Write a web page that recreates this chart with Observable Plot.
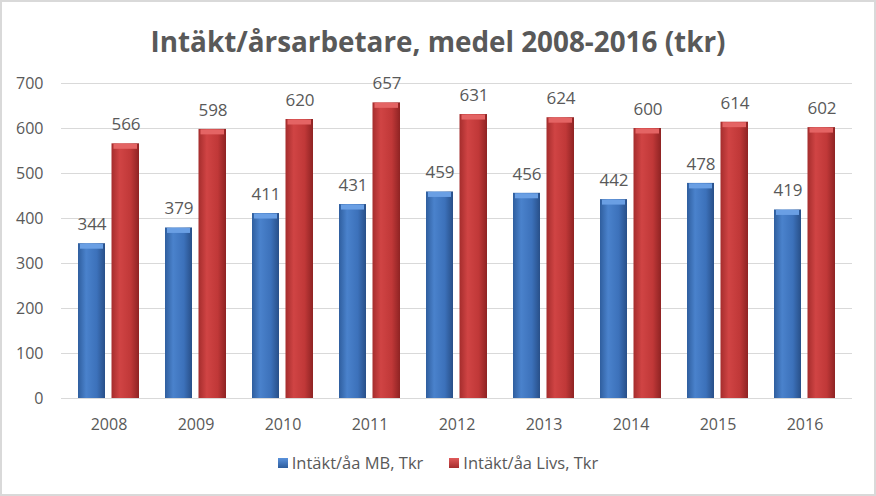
<!DOCTYPE html>
<html><head><meta charset="utf-8">
<script src="https://cdn.jsdelivr.net/npm/d3@7"></script>
<script src="https://cdn.jsdelivr.net/npm/@observablehq/plot@0.6"></script>
<style>
body{margin:0;background:#fff;}
#wrap{width:876px;height:496px;box-sizing:border-box;border:2px solid #d9d9d9;background:#fff;overflow:hidden;font-family:"Open Sans",sans-serif;color:#595959;}
#title{display:block;}
#chart svg{display:block;}
#legend{height:54px;box-sizing:border-box;padding-top:12px;display:flex;justify-content:center;align-items:flex-start;font-size:16.5px;line-height:22px;}
.item{display:flex;align-items:center;margin:0 13px;}
.sw{width:10px;height:10px;margin-right:4px;}
</style></head><body>
<div id="wrap">
<svg id="title" width="872" height="66"></svg>
<div id="chart"></div>
<div id="legend"></div>
</div>
<script>
const titleText = "Intäkt/årsarbetare, medel 2008-2016 (tkr)";
const years = ["2008","2009","2010","2011","2012","2013","2014","2015","2016"];
const mbValues = [344,379,411,431,459,456,442,478,419];
const livsValues = [566,598,620,657,631,624,600,614,602];
const yTicks = [0,100,200,300,400,500,600,700];
const seriesNames = ["Intäkt/åa MB, Tkr","Intäkt/åa Livs, Tkr"];

const rows = years.map((y,i)=>({year:y, mb:mbValues[i], livs:livsValues[i]}));

// title
const ns = "http://www.w3.org/2000/svg";
const tsvg = document.getElementById("title");
const t = document.createElementNS(ns,"text");
t.setAttribute("x","436"); t.setAttribute("y","50");
t.setAttribute("text-anchor","middle");
t.setAttribute("font-family","Open Sans");
t.setAttribute("font-weight","bold");
t.setAttribute("font-size","28");
t.setAttribute("fill","#595959");
t.setAttribute("textLength","575");
t.setAttribute("lengthAdjust","spacingAndGlyphs");
t.textContent = titleText;
tsvg.appendChild(t);

const chart = Plot.plot({
  width: 872, height: 372,
  marginTop: 15, marginBottom: 42, marginLeft: 59, marginRight: 22,
  style: {fontFamily: "Open Sans", fontSize: "16px", color: "#595959", background: "white"},
  x: {domain: years, padding: 0, tickSize: 0, tickPadding: 20, label: null},
  y: {domain: [0,700], ticks: yTicks, tickSize: 0, tickPadding: 18, label: null},
  marks: [
    Plot.ruleY(yTicks, {stroke: "#d9d9d9", strokeWidth: 1}),
    Plot.barY(rows, {x: "year", y: "mb", fill: "url(#gBlue)", insetLeft: 13, insetRight: 47}),
    Plot.barY(rows, {x: "year", y: "livs", fill: "url(#gRed)", insetLeft: 46.5, insetRight: 13}),
    Plot.tickY(rows, {x: "year", y: "mb", stroke: "#6a9fe4", strokeWidth: 5, dy: 2.5, insetLeft: 15, insetRight: 49}),
    Plot.tickY(rows, {x: "year", y: "livs", stroke: "#e46464", strokeWidth: 5, dy: 2.5, insetLeft: 48.5, insetRight: 15}),
    Plot.text(rows, {x: "year", y: "mb", text: d => String(d.mb), dx: -17, dy: -19, fill: "#595959", fontSize: 17}),
    Plot.text(rows, {x: "year", y: "livs", text: d => String(d.livs), dx: 17, dy: -19, fill: "#595959", fontSize: 17})
  ]
});
const defs = document.createElementNS(ns,"defs");
defs.innerHTML = `
<linearGradient id="gBlue" x1="0" x2="1" y1="0" y2="0">
  <stop offset="0" stop-color="#2f5e9e"/>
  <stop offset="0.3" stop-color="#4a82cc"/>
  <stop offset="0.7" stop-color="#3c71ba"/>
  <stop offset="1" stop-color="#284f88"/>
</linearGradient>
<linearGradient id="gRed" x1="0" x2="1" y1="0" y2="0">
  <stop offset="0" stop-color="#a52d2d"/>
  <stop offset="0.3" stop-color="#d04444"/>
  <stop offset="0.7" stop-color="#c03838"/>
  <stop offset="1" stop-color="#8e2323"/>
</linearGradient>`;
chart.insertBefore(defs, chart.firstChild);
document.getElementById("chart").appendChild(chart);

// legend
const legendColors = ["linear-gradient(#5a92dc,#2d5c9c)","linear-gradient(#e05a5a,#a52d2d)"];
const leg = document.getElementById("legend");
seriesNames.forEach((name,i)=>{
  const it = document.createElement("div"); it.className = "item";
  const sw = document.createElement("div"); sw.className = "sw"; sw.style.background = legendColors[i];
  const tx = document.createElement("span"); tx.textContent = name;
  it.appendChild(sw); it.appendChild(tx); leg.appendChild(it);
});
</script>
</body></html>
